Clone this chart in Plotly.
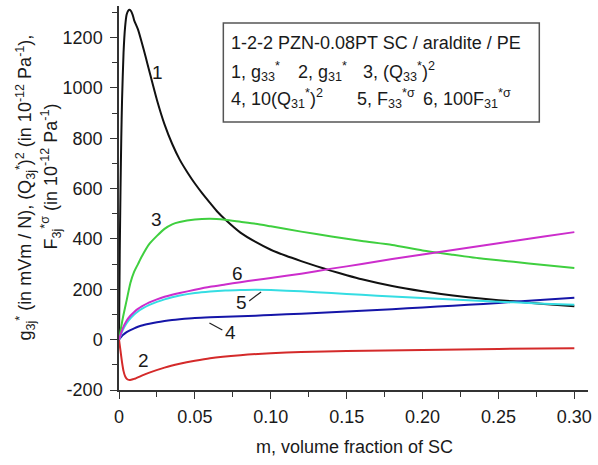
import plotly.graph_objects as go

# Volume fraction of single crystal (SC) and the six computed curves
m_g33 = [0, 0.0005, 0.001, 0.0015, 0.002, 0.003, 0.004, 0.005, 0.006, 0.007, 0.008,
         0.009, 0.01, 0.0125, 0.015, 0.0175, 0.02, 0.025, 0.03, 0.035, 0.04, 0.045,
         0.05, 0.055, 0.06, 0.065, 0.07, 0.08, 0.09, 0.1, 0.11, 0.12, 0.13, 0.14,
         0.15, 0.16, 0.18, 0.2, 0.22, 0.24, 0.26, 0.28, 0.3]
g33 = [0, 350, 600, 800, 950, 1140, 1240, 1290, 1306, 1310, 1304,
       1290, 1268, 1232, 1180, 1124, 1066, 952, 855, 778, 715, 665,
       620, 580, 543, 507, 477, 425, 388, 357, 333, 312, 292, 273,
       256, 240, 213, 192, 175, 162, 152, 142, 133]

m_g31 = [0, 0.001, 0.002, 0.003, 0.004, 0.005, 0.006, 0.007, 0.008, 0.01, 0.015,
         0.02, 0.03, 0.04, 0.05, 0.06, 0.08, 0.1, 0.12, 0.15, 0.2, 0.25, 0.3]
g31 = [0, -45, -90, -125, -145, -155, -159, -160, -159, -156, -143,
       -131, -111, -96, -84, -74, -62, -54, -49, -45, -41, -37, -34]

m_rest = [0, 0.0025, 0.005, 0.0075, 0.01, 0.0125, 0.015, 0.02, 0.025, 0.03, 0.035,
          0.04, 0.05, 0.06, 0.07, 0.08, 0.09, 0.1, 0.12, 0.14, 0.16, 0.18, 0.2,
          0.22, 0.24, 0.26, 0.28, 0.3]
q33_sq = [0, 85, 155, 225, 270, 300, 330, 380, 412, 440, 458,
          467, 477, 480, 476, 468, 460, 450, 429, 410, 392, 376, 354,
          337, 321, 309, 296, 285]
q31_sq_x10 = [0, 18, 30, 38, 45, 51, 56, 63, 69, 74, 78,
              81, 86, 89, 91, 93, 95, 98, 103, 109, 115, 121, 128,
              135, 142, 150, 158, 166]
f33 = [0, 38, 65, 85, 100, 112, 122, 138, 150, 160, 168,
       175, 185, 191, 195, 197, 198, 197, 192, 185, 178, 171, 165,
       159, 153, 148, 143, 139]
f31_x100 = [0, 45, 75, 95, 110, 122, 132, 148, 160, 170, 178,
            185, 198, 210, 219, 228, 237, 245, 262, 282, 300, 320, 338,
            356, 374, 392, 410, 427]

x_ticks = [0, 0.05, 0.10, 0.15, 0.20, 0.25, 0.30]
x_tick_text = ["0", "0.05", "0.10", "0.15", "0.20", "0.25", "0.30"]
y_ticks = [-200, 0, 200, 400, 600, 800, 1000, 1200]
y_tick_text = ["-200", "0", "200", "400", "600", "800", "1000", "1200"]

FONT = "Liberation Sans Narrow, Arial Narrow, Liberation Sans, Arial, sans-serif"
TXT = "#1a1a1a"

series = [
    (m_g33, g33, "#111111"),
    (m_g31, g31, "#d42a2a"),
    (m_rest, q33_sq, "#3fcf3f"),
    (m_rest, q31_sq_x10, "#1515a8"),
    (m_rest, f33, "#35dde3"),
    (m_rest, f31_x100, "#cc2dcc"),
]

fig = go.Figure()
for xs, ys, col in series:
    fig.add_trace(go.Scatter(x=xs, y=ys, mode="lines", line=dict(color=col, width=2, shape="spline", smoothing=0.6),
                             showlegend=False, hoverinfo="skip"))

# Plot area geometry (pixels) used to place annotations in paper units
L, R, T, B = 119, 7, 6, 75
W, H = 598, 465
PW, PH = W - L - R, H - T - B


def px(xp):
    return (xp - L) / PW


def py(yp):
    return (H - B - yp) / PH


axis_common = dict(
    showgrid=False, zeroline=False, showline=True, linecolor="#333333", linewidth=1.5,
    ticks="outside", ticklen=7, tickwidth=1.3, tickcolor="#333333",
    tickfont=dict(family=FONT, size=18, color=TXT),
)

fig.update_xaxes(range=[0, 0.309], tickvals=x_ticks, ticktext=x_tick_text,
                 minor=dict(tickvals=[0.025, 0.075, 0.125, 0.175, 0.225, 0.275], ticks="outside",
                            ticklen=5, tickwidth=1.2, tickcolor="#333333"),
                 ticklabelstandoff=3, **axis_common)
fig.update_yaxes(range=[-200, 1325], tickvals=y_ticks, ticktext=y_tick_text,
                 minor=dict(tickvals=[-100, 100, 300, 500, 700, 900, 1100, 1300], ticks="outside",
                            ticklen=5, tickwidth=1.2, tickcolor="#333333"),
                 ticklabelstandoff=4, **axis_common)

ann = []
# axis titles
ann.append(dict(text="m, volume fraction of SC", x=px(356), y=py(447), xref="paper", yref="paper",
                showarrow=False, xanchor="center", yanchor="middle",
                font=dict(family=FONT, size=18, color=TXT)))
ann.append(dict(text="g<sub>3j</sub><sup>*</sup> (in mVm / N), (Q<sub>3j</sub><sup>*</sup>)<sup>2</sup> (in 10<sup>-12</sup> Pa<sup>-1</sup>),",
                x=px(24), y=py(188), xref="paper", yref="paper", textangle=-90,
                showarrow=False, xanchor="center", yanchor="middle",
                font=dict(family=FONT, size=18, color=TXT)))
ann.append(dict(text="F<sub>3j</sub><sup>*σ</sup> (in 10<sup>-12</sup> Pa<sup>-1</sup>)",
                x=px(50), y=py(176), xref="paper", yref="paper", textangle=-90,
                showarrow=False, xanchor="center", yanchor="middle",
                font=dict(family=FONT, size=18, color=TXT)))

# key box text
key_font = dict(family=FONT, size=18, color=TXT)
key_items = [
    ("1-2-2 PZN-0.08PT SC / araldite / PE", 230, 43),
    ("1, g<sub>33</sub><sup>*</sup>", 230, 71),
    ("2, g<sub>31</sub><sup>*</sup>", 297, 71),
    ("3, (Q<sub>33</sub><sup>*</sup>)<sup>2</sup>", 363, 71),
    ("4, 10(Q<sub>31</sub><sup>*</sup>)<sup>2</sup>", 230, 98),
    ("5, F<sub>33</sub><sup>*σ</sup>", 357, 98),
    ("6, 100F<sub>31</sub><sup>*σ</sup>", 423, 98),
]
for t, xp, yp in key_items:
    ann.append(dict(text=t, x=px(xp), y=py(yp), xref="paper", yref="paper", showarrow=False,
                    xanchor="left", yanchor="middle", font=key_font))

# curve numbers
curve_labels = [("1", 158, 73), ("2", 144, 360), ("3", 157, 219),
                ("4", 231, 332), ("5", 242, 302), ("6", 238, 273)]
for t, xp, yp in curve_labels:
    ann.append(dict(text=t, x=px(xp), y=py(yp), xref="paper", yref="paper", showarrow=False,
                    xanchor="center", yanchor="middle", font=dict(family=FONT, size=19, color=TXT)))

shapes = [
    dict(type="rect", xref="paper", yref="paper", x0=px(224), x1=px(542), y0=py(122), y1=py(23),
         line=dict(color="#555555", width=1.5), fillcolor="rgba(0,0,0,0)"),
    dict(type="line", xref="paper", yref="paper", x0=px(210), y0=py(323), x1=px(223), y1=py(330),
         line=dict(color="#222222", width=1.2)),
    dict(type="line", xref="paper", yref="paper", x0=px(250), y0=py(301), x1=px(262), y1=py(292),
         line=dict(color="#222222", width=1.2)),
]

fig.update_layout(
    width=W, height=H, margin=dict(l=L, r=R, t=T, b=B),
    paper_bgcolor="white", plot_bgcolor="white",
    annotations=ann, shapes=shapes,
    font=dict(family=FONT, color=TXT),
)

fig.write_html("out.html")
